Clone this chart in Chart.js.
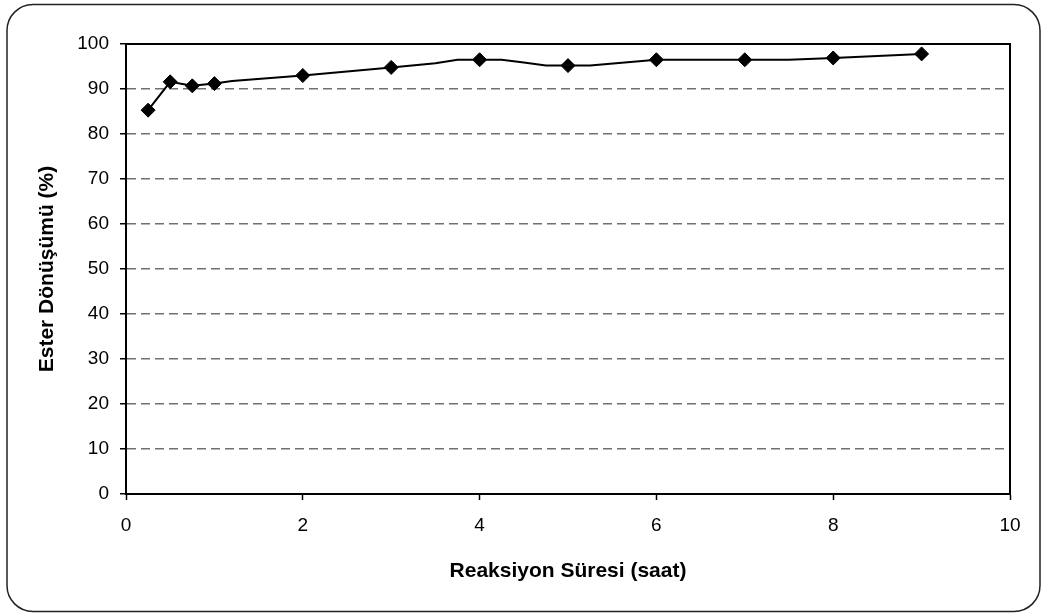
<!DOCTYPE html>
<html>
<head>
<meta charset="utf-8">
<script src="https://cdn.jsdelivr.net/npm/chart.js@4/dist/chart.umd.min.js"></script>
<style>
  html, body { margin: 0; padding: 0; background: #fff; }
  #wrap { width: 1043px; height: 614px; }
</style>
</head>
<body>
<div id="wrap"><canvas id="chart"></canvas></div>
<script>
// measured points (diamonds)
const timeHours = [0.25, 0.5, 0.75, 1, 2, 3, 4, 5, 6, 7, 8, 9];
const conversion = [85.3, 91.6, 90.7, 91.2, 93.0, 94.8, 96.5, 95.2, 96.5, 96.5, 96.9, 97.8];

const lineX = [0.25, 0.5, 0.75, 1, 1.2, 2, 3, 3.5, 3.75, 4, 4.25, 4.5, 4.75, 5, 5.25, 6, 7, 7.5, 8, 9];
const lineY = [85.3, 91.6, 90.7, 91.2, 91.8, 93.0, 94.8, 95.7, 96.5, 96.5, 96.5, 95.9, 95.2, 95.2, 95.2, 96.5, 96.5, 96.5, 96.9, 97.8];

const xTicks = [0, 2, 4, 6, 8, 10];
const yTicks = [0, 10, 20, 30, 40, 50, 60, 70, 80, 90, 100];

const FONT = "'Liberation Sans', Arial, sans-serif";

// outer rounded frame + black box round plot area
const framePlugin = {
  id: 'frame',
  beforeDraw(chart) {
    const c = chart.ctx;
    c.save();
    c.fillStyle = '#fff';
    c.fillRect(0, 0, chart.width, chart.height);
    c.restore();
  },
  afterDraw(chart) {
    const c = chart.ctx;
    const a = chart.chartArea;
    c.save();
    c.strokeStyle = '#000';
    c.lineWidth = 2;
    c.strokeRect(a.left, a.top, a.right - a.left, a.bottom - a.top);
    c.strokeStyle = '#222';
    c.lineWidth = 1.5;
    c.beginPath();
    c.roundRect(7, 4.5, 1033, 607, 26);
    c.stroke();
    c.restore();
  }
};

const ctx = document.getElementById('chart').getContext('2d');

new Chart(ctx, {
  type: 'scatter',
  data: {
    datasets: [
      {
        label: 'line',
        data: lineX.map((x, i) => ({ x: x, y: lineY[i] })),
        showLine: true,
        borderColor: '#000',
        borderWidth: 2,
        pointRadius: 0,
        tension: 0
      },
      {
        label: 'Ester Dönüşümü',
        data: timeHours.map((x, i) => ({ x: x, y: conversion[i] })),
        showLine: false,
        pointStyle: 'rectRot',
        pointRadius: 7,
        backgroundColor: '#000',
        borderColor: '#000',
        borderWidth: 1
      }
    ]
  },
  options: {
    responsive: true,
    maintainAspectRatio: false,
    animation: false,
    layout: { padding: { left: 0, right: 33, top: 44, bottom: 0 } },
    plugins: {
      legend: { display: false },
      tooltip: { enabled: false }
    },
    scales: {
      x: {
        type: 'linear',
        min: 0,
        max: 10,
        afterFit(scale) { scale.height = 120; },
        afterBuildTicks(scale) { scale.ticks = xTicks.map(v => ({ value: v })); },
        ticks: {
          color: '#000',
          padding: 14,
          font: { family: FONT, size: 19 }
        },
        grid: {
          drawOnChartArea: false,
          drawTicks: true,
          tickLength: 6,
          tickColor: '#000',
          tickWidth: 1.5
        },
        border: { color: '#000', width: 2 },
        title: {
          display: true,
          text: 'Reaksiyon Süresi (saat)',
          color: '#000',
          font: { family: FONT, size: 21, weight: 'bold' },
          padding: { top: 0, bottom: 30 }
        }
      },
      y: {
        min: 0,
        max: 100,
        afterFit(scale) { scale.width = 126; },
        afterBuildTicks(scale) { scale.ticks = yTicks.map(v => ({ value: v })); },
        ticks: {
          color: '#000',
          padding: 11,
          font: { family: FONT, size: 19 }
        },
        grid: {
          color: (c) => (c.tick && (c.tick.value === 0 || c.tick.value === 100)) ? 'rgba(0,0,0,0)' : '#707070',
          lineWidth: 1.5,
          drawTicks: true,
          tickLength: 6,
          tickColor: '#000',
          tickWidth: 1.5,
          tickBorderDash: []
        },
        border: { color: '#000', width: 2, dash: [9, 5] },
        title: {
          display: true,
          text: 'Ester Dönüşümü (%)',
          color: '#000',
          font: { family: FONT, size: 21, weight: 'bold' },
          padding: { top: 35, bottom: 0 }
        }
      }
    }
  },
  plugins: [framePlugin]
});
</script>
</body>
</html>
